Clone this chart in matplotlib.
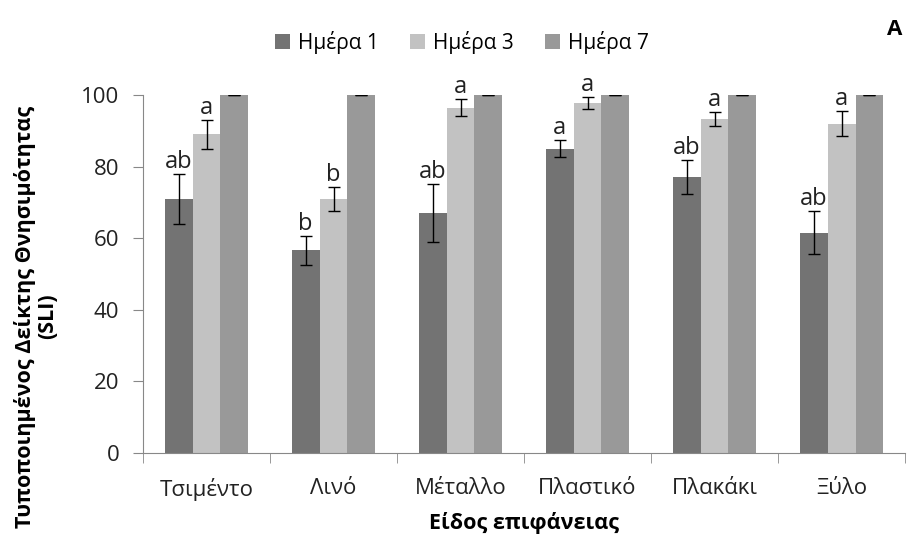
import matplotlib.pyplot as plt
import numpy as np

plt.rcParams['font.family'] = ['Open Sans', 'DejaVu Sans']

surfaces = ['Τσιμέντο', 'Λινό', 'Μέταλλο', 'Πλαστικό', 'Πλακάκι', 'Ξύλο']
series_names = ['Ημέρα 1', 'Ημέρα 3', 'Ημέρα 7']

day1 = [71, 56.6, 67, 85, 77, 61.5]
day3 = [89, 71, 96.5, 97.7, 93.3, 92]
day7 = [100, 100, 100, 100, 100, 100]

day1_err = [7, 4, 8, 2.3, 4.7, 6]
day3_err = [4, 3.4, 2.5, 1.6, 2, 3.4]
day7_err = [0, 0, 0, 0, 0, 0]

day1_letters = ['ab', 'b', 'ab', 'a', 'ab', 'ab']
day3_letters = ['a', 'b', 'a', 'a', 'a', 'a']

colors = ['#737373', '#c2c2c2', '#999999']

fig = plt.figure(figsize=(9.22, 5.44), dpi=100)
ax = fig.add_axes([0.1551, 0.1673, 0.8265, 0.6581])

x = np.arange(len(surfaces))
width = 0.22
values = [day1, day3, day7]
errors = [day1_err, day3_err, day7_err]
letters = [day1_letters, day3_letters, None]

for i in range(3):
    pos = x + (i - 1) * width
    ax.bar(pos, values[i], width, color=colors[i], label=series_names[i],
           yerr=errors[i], capsize=4,
           error_kw=dict(ecolor='black', elinewidth=1, capthick=1))
    if letters[i] is not None:
        for p, v, e, t in zip(pos, values[i], errors[i], letters[i]):
            ax.annotate(t, (p, v + e), xytext=(0, 0), textcoords='offset points',
                        ha='center', va='bottom', fontsize=17, color='#222222')

ax.set_xlim(-0.5, len(surfaces) - 0.5)
ax.set_ylim(0, 100)
ax.set_yticks([0, 20, 40, 60, 80, 100])
ax.set_xticks(x)
ax.set_xticklabels(surfaces)
ax.set_xticks(np.arange(-0.5, len(surfaces)), minor=True)

ax.tick_params(axis='y', length=7, pad=10, labelsize=16, color='#888888', labelcolor='#222222')
ax.tick_params(axis='x', which='major', length=0, pad=18, labelsize=16, labelcolor='#222222')
ax.tick_params(axis='x', which='minor', length=7, color='#888888')

for s in ['top', 'right']:
    ax.spines[s].set_visible(False)
for s in ['left', 'bottom']:
    ax.spines[s].set_color('#888888')

ax.set_xlabel('Είδος επιφάνειας', fontsize=15.5, fontweight='bold', labelpad=8)
fig.text(0.039, 0.418, 'Τυποποιημένος Δείκτης Θνησιμότητας\n(SLI)', rotation=90,
         ha='center', va='center', fontsize=15.5, fontweight='bold',
         multialignment='center', linespacing=1.1)

fig.legend(loc='center', bbox_to_anchor=(462 / 922, 1 - 42 / 544), ncol=3,
           frameon=False, fontsize=15, handlelength=0.7, handleheight=0.7,
           handletextpad=0.4, columnspacing=1.5)

fig.text(0.97, 0.945, 'A', fontsize=16, fontweight='bold', ha='center', va='center')

fig.savefig('out.png', dpi=100)
